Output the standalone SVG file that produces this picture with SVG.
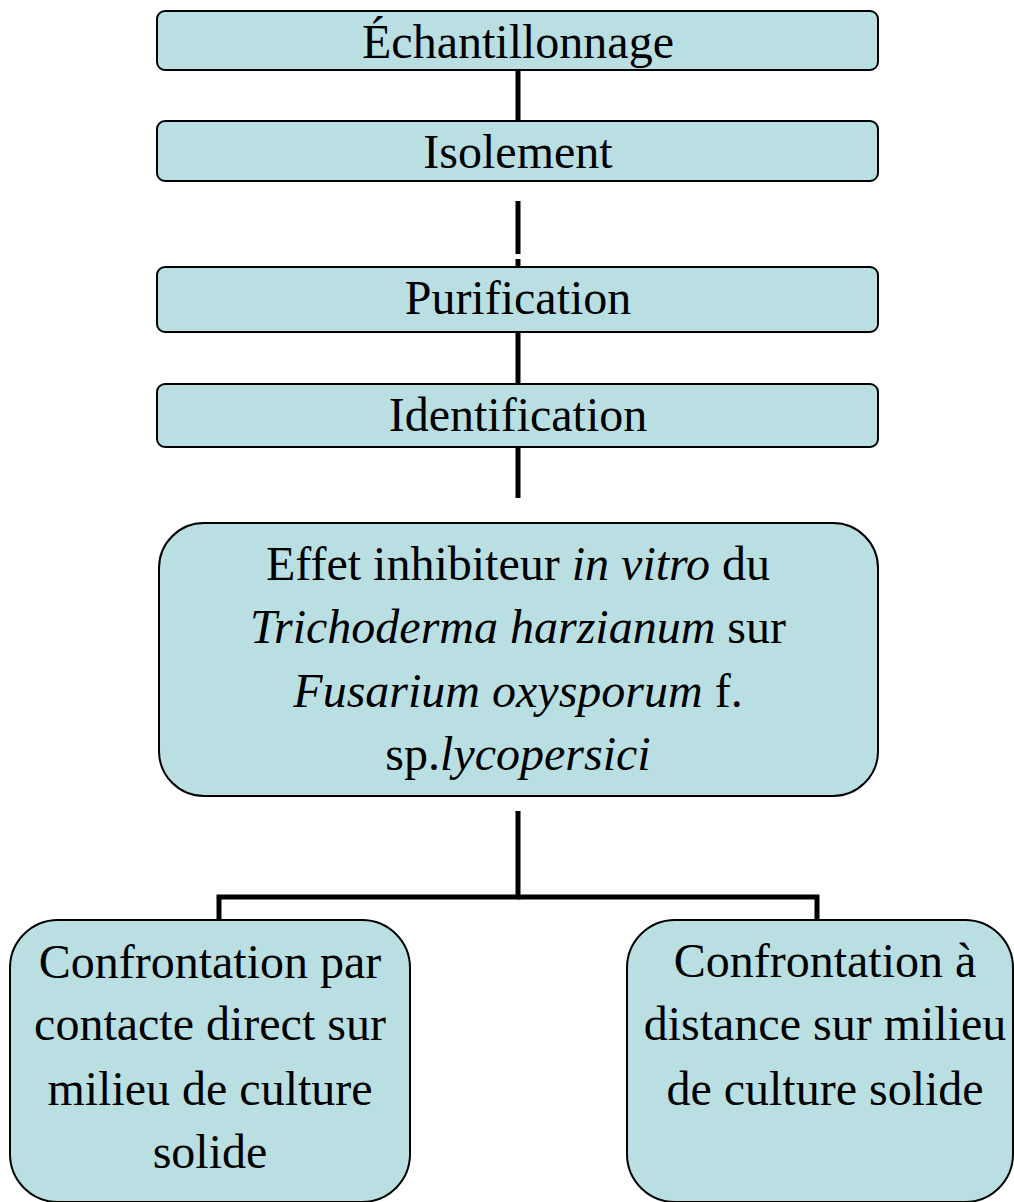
<svg xmlns="http://www.w3.org/2000/svg" width="1014" height="1202" viewBox="0 0 1014 1202">
<style>
.box{fill:#badfe3;stroke:#000;stroke-width:2}
.t{font-family:"Liberation Serif","Times New Roman",serif;fill:#000;text-anchor:middle;font-size:48px}
.i{font-style:italic}
.con{stroke:#000;stroke-width:5;fill:none}
</style>
<rect width="1014" height="1202" fill="#fff"/>
<g id="connectors">
<line class="con" x1="518" y1="70" x2="518" y2="121"/>
<line class="con" x1="518" y1="201" x2="518" y2="254"/>
<line class="con" x1="518" y1="259" x2="518" y2="267"/>
<line class="con" x1="518" y1="332" x2="518" y2="384"/>
<line class="con" x1="518" y1="447" x2="518" y2="498"/>
<polyline class="con" points="518,811 518,897 219,897 219,920"/>
<polyline class="con" points="518,897 817,897 817,920"/>
</g>
<g id="node-echantillonnage">
<rect class="box" x="157" y="11" width="721" height="59" rx="8"/>
<text class="t" x="518" y="58">Échantillonnage</text>
</g>
<g id="node-isolement">
<rect class="box" x="157" y="121" width="721" height="60" rx="8"/>
<text class="t" x="518" y="168">Isolement</text>
</g>
<g id="node-purification">
<rect class="box" x="157" y="267" width="721" height="65" rx="8"/>
<text class="t" x="518" y="314">Purification</text>
</g>
<g id="node-identification">
<rect class="box" x="157" y="384" width="721" height="63" rx="8"/>
<text class="t" x="518" y="431">Identification</text>
</g>
<g id="node-effet">
<rect class="box" x="159" y="523" width="719" height="273" rx="45"/>
<text class="t" x="518" y="580">Effet inhibiteur <tspan class="i">in vitro</tspan> du</text>
<text class="t" x="518" y="643"><tspan class="i">Trichoderma harzianum</tspan> sur</text>
<text class="t" x="518" y="707"><tspan class="i">Fusarium oxysporum</tspan> f.</text>
<text class="t" x="518" y="770">sp.<tspan class="i">lycopersici</tspan></text>
</g>
<g id="node-contact">
<rect class="box" x="10" y="920" width="400" height="282" rx="48"/>
<text class="t" x="210" y="978">Confrontation par</text>
<text class="t" x="210" y="1040">contacte direct sur</text>
<text class="t" x="210" y="1105">milieu de culture</text>
<text class="t" x="210" y="1168">solide</text>
</g>
<g id="node-distance">
<rect class="box" x="627" y="920" width="386" height="282" rx="48"/>
<text class="t" x="825" y="977">Confrontation à</text>
<text class="t" x="825" y="1040">distance sur milieu</text>
<text class="t" x="825" y="1105">de culture solide</text>
</g>
</svg>
